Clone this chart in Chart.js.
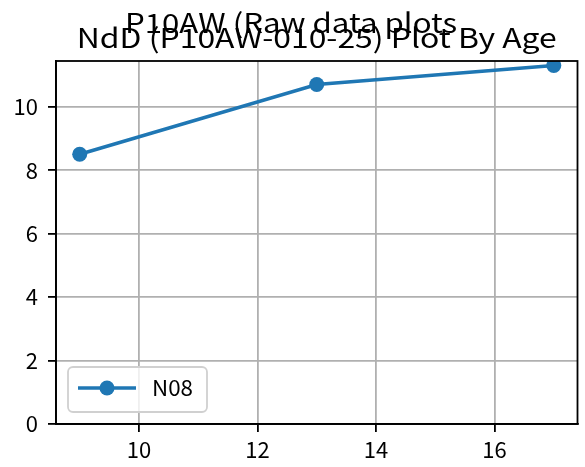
<!DOCTYPE html>
<html><head><meta charset="utf-8">
<script src="https://cdn.jsdelivr.net/npm/chart.js@4.4.0/dist/chart.umd.min.js"></script>
<style>html,body{margin:0;padding:0;background:#fff;} #wrap{width:585px;height:467px;}</style>
</head><body><div id="wrap"><canvas id="c" width="585" height="467"></canvas></div>
<script>
const ages = [9, 13, 17];
const nddValues = [8.5, 10.7, 11.3];
const seriesName = 'N08';
const xTicks = [10, 12, 14, 16];
const yTicks = [0, 2, 4, 6, 8, 10];
const titleText = 'NdD (P10AW-010-25) Plot By Age';
const supTitleText = 'P10AW (Raw data plots';

const FONT = '"Noto Sans CJK JP", "Noto Sans", sans-serif';
const BLUE = '#1f77b4';

function drawFitted(ctx, text, cx, baseline, size, width) {
  ctx.save();
  ctx.font = size + 'px ' + FONT;
  const w = ctx.measureText(text).width;
  const s = width / w;
  ctx.translate(cx, baseline);
  ctx.scale(s, 1);
  ctx.textAlign = 'center';
  ctx.textBaseline = 'alphabetic';
  ctx.fillStyle = '#000';
  ctx.fillText(text, 0, 0);
  ctx.restore();
}

const decor = {
  id: 'decor',
  afterDraw(chart) {
    const {ctx, chartArea: a} = chart;
    ctx.save();
    ctx.strokeStyle = '#000';
    ctx.lineWidth = 1.8;
    ctx.strokeRect(a.left, a.top, a.right - a.left, a.bottom - a.top);
    const lx = a.left + 12, ly = a.bottom - 57, lw = 139, lh = 45, r = 5;
    ctx.beginPath();
    ctx.moveTo(lx + r, ly);
    ctx.arcTo(lx + lw, ly, lx + lw, ly + lh, r);
    ctx.arcTo(lx + lw, ly + lh, lx, ly + lh, r);
    ctx.arcTo(lx, ly + lh, lx, ly, r);
    ctx.arcTo(lx, ly, lx + lw, ly, r);
    ctx.closePath();
    ctx.fillStyle = 'rgba(255,255,255,0.8)';
    ctx.fill();
    ctx.strokeStyle = '#d0d0d0';
    ctx.lineWidth = 1.8;
    ctx.stroke();
    const ds = chart.data.datasets[0];
    const cy = ly + 21;
    ctx.strokeStyle = ds.borderColor;
    ctx.lineWidth = 3.5;
    ctx.beginPath();
    ctx.moveTo(lx + 10, cy);
    ctx.lineTo(lx + 68, cy);
    ctx.stroke();
    ctx.fillStyle = ds.borderColor;
    ctx.beginPath();
    ctx.arc(lx + 39, cy, 7.5, 0, Math.PI * 2);
    ctx.fill();
    ctx.restore();
    drawFitted(ctx, ds.label, lx + 84 + 20.5, cy + 8, 22, 41);
    drawFitted(ctx, titleText, (a.left + a.right) / 2, 48, 27, 480);
    drawFitted(ctx, supTitleText, chart.width / 2 - 1.5, 33, 27, 332);
  }
};

new Chart(document.getElementById('c'), {
  type: 'line',
  data: {
    datasets: [{
      label: seriesName,
      data: ages.map((x, i) => ({x: x, y: nddValues[i]})),
      borderColor: BLUE,
      backgroundColor: BLUE,
      borderWidth: 3.5,
      pointRadius: 7.5,
      pointHoverRadius: 7.5,
      pointBorderWidth: 0,
      pointBackgroundColor: BLUE,
      tension: 0,
      fill: false
    }]
  },
  options: {
    responsive: false,
    animation: false,
    devicePixelRatio: 1,
    layout: {padding: {top: 61, right: 4, left: 0, bottom: 0}},
    plugins: {legend: {display: false}, title: {display: false}, tooltip: {enabled: false}},
    scales: {
      x: {
        type: 'linear',
        min: 8.6, max: 17.4,
        afterBuildTicks(s) { s.ticks = xTicks.map(v => ({value: v})); },
        afterFit(s) { s.height = 43; },
        grid: {color: '#b0b0b0', lineWidth: 1.8, tickLength: 8, tickColor: '#000', tickWidth: 1.8},
        border: {display: true, color: '#000', width: 1.8},
        ticks: {font: {family: FONT, size: 22}, color: '#000', padding: 4, maxRotation: 0}
      },
      y: {
        type: 'linear',
        min: 0, max: 11.44,
        afterBuildTicks(s) { s.ticks = yTicks.map(v => ({value: v})); },
        afterFit(s) { s.width = 56; },
        grid: {color: '#b0b0b0', lineWidth: 1.8, tickLength: 8, tickColor: '#000', tickWidth: 1.8},
        border: {display: true, color: '#000', width: 1.8},
        ticks: {font: {family: FONT, size: 22}, color: '#000', padding: 10}
      }
    }
  },
  plugins: [decor]
});
</script>
</body></html>
